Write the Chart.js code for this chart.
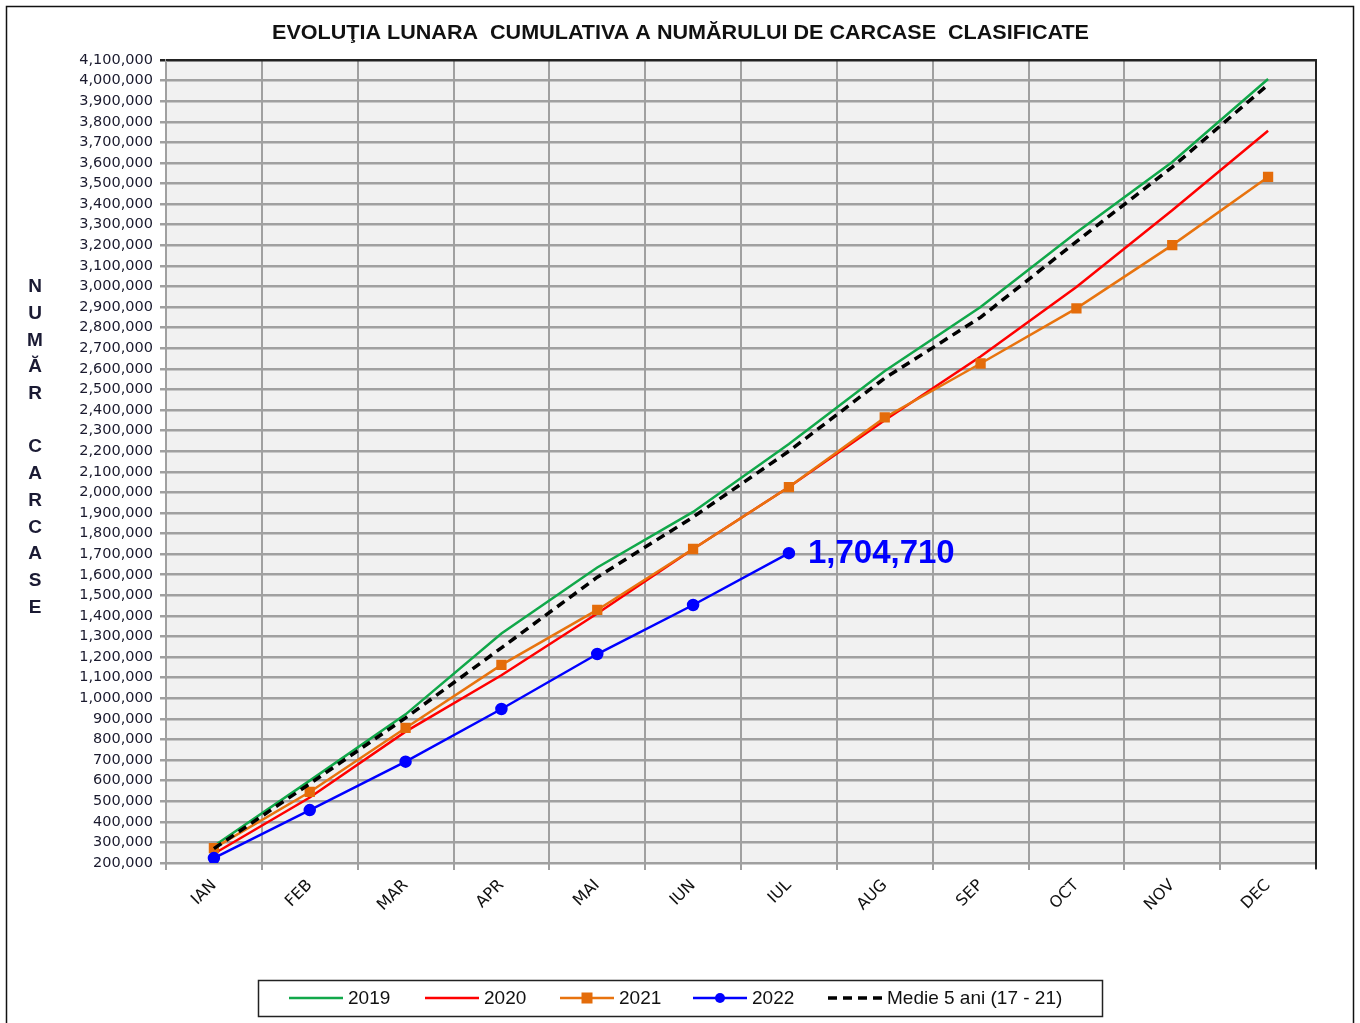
<!DOCTYPE html>
<html>
<head>
<meta charset="utf-8">
<script src="https://cdn.jsdelivr.net/npm/chart.js@4.4.1/dist/chart.umd.min.js"></script>
<style>
  html, body { margin: 0; padding: 0; background: #fff; }
  canvas { display: block; }
</style>
</head>
<body>
<canvas id="chart" width="1360" height="1023"></canvas>
<script>
// Date - evolutia lunara cumulativa a carcaselor clasificate
const months = ['IAN', 'FEB', 'MAR', 'APR', 'MAI', 'IUN', 'IUL', 'AUG', 'SEP', 'OCT', 'NOV', 'DEC'];
const s2019 = [283000, 600000, 922000, 1315000, 1635000, 1905000, 2235000, 2590000, 2900000, 3262000, 3605000, 4008000];
const s2020 = [245000, 518000, 838000, 1112000, 1412000, 1725000, 2026000, 2350000, 2660000, 2998000, 3370000, 3756000];
const s2021 = [272000, 545000, 856000, 1162000, 1429000, 1725000, 2026000, 2364000, 2626000, 2894000, 3201000, 3532000];
const s2022 = [224000, 457000, 692000, 948000, 1215000, 1453000, 1704710];
const medie = [270000, 585000, 905000, 1245000, 1588000, 1880000, 2200000, 2555000, 2850000, 3218000, 3580000, 3980000];
const yMin = 200000;
const yMax = 4100000;
const yStep = 100000;

const chartTitle = 'EVOLUŢIA LUNARA  CUMULATIVA A NUMĂRULUI DE CARCASE  CLASIFICATE';
const yTitle = 'NUMĂR CARCASE';
const lastLabel = s2022[s2022.length - 1];

const fmt = v => Number(v).toLocaleString('en-US');

// fundal + chenare
const decorPlugin = {
    id: 'decor',
    beforeDraw(chart) {
        const { ctx, chartArea: a } = chart;
        ctx.save();
        ctx.fillStyle = '#ffffff';
        ctx.fillRect(0, 0, chart.width, chart.height);
        ctx.fillStyle = '#f1f1f1';
        ctx.fillRect(a.left, a.top, a.right - a.left, a.bottom - a.top);
        ctx.restore();
    },
    afterDatasetsDraw(chart) {
        const { ctx, chartArea: a } = chart;
        ctx.save();
        // linie sus + dreapta
        ctx.strokeStyle = '#222';
        ctx.lineWidth = 2;
        ctx.beginPath();
        ctx.moveTo(a.left, a.top);
        ctx.lineTo(a.right, a.top);
        ctx.lineTo(a.right, a.bottom + 6);
        ctx.stroke();

        // eticheta ultima valoare 2022
        const meta = chart.getDatasetMeta(3);
        const pt = meta.data[meta.data.length - 1];
        ctx.fillStyle = '#0000ff';
        ctx.font = 'bold 33px "Liberation Sans", Arial, sans-serif';
        ctx.textBaseline = 'middle';
        ctx.textAlign = 'left';
        ctx.fillText(fmt(lastLabel), pt.x + 19, pt.y + 1);
        ctx.restore();
    },
    afterDraw(chart) {
        const { ctx } = chart;
        ctx.save();
        // chenar exterior
        ctx.strokeStyle = '#111';
        ctx.lineWidth = 1.5;
        ctx.strokeRect(6.5, 6.5, 1347, 1040);

        // titlu, intins pe latimea din original
        ctx.fillStyle = '#111';
        ctx.font = 'bold 20px "Liberation Sans", Arial, sans-serif';
        ctx.textAlign = 'left';
        ctx.textBaseline = 'middle';
        const tw = ctx.measureText(chartTitle).width;
        ctx.save();
        ctx.translate(272, 33);
        ctx.scale(817 / tw, 1);
        ctx.fillText(chartTitle, 0, 0);
        ctx.restore();

        // titlu axa Y, litere stivuite
        ctx.textAlign = 'center';
        ctx.fillStyle = '#1a1a33';
        ctx.font = 'bold 19px "Liberation Sans", Arial, sans-serif';
        [...yTitle].forEach((ch, i) => {
            ctx.fillText(ch, 35, 287 + i * 26.7);
        });

        // legenda
        const box = { x: 258, y: 980, w: 844, h: 36 };
        ctx.strokeStyle = '#222';
        ctx.lineWidth = 1.5;
        ctx.strokeRect(box.x + 0.5, box.y + 0.5, box.w, box.h);
        const cy = box.y + box.h / 2;
        ctx.font = '19px "Liberation Sans", Arial, sans-serif';
        ctx.textAlign = 'left';
        const starts = [289, 425, 560, 693, 828];
        chart.data.datasets.forEach((ds, i) => {
            const x0 = starts[i];
            ctx.strokeStyle = ds.borderColor;
            ctx.lineWidth = ds.borderWidth;
            ctx.setLineDash(ds.borderDash || []);
            ctx.beginPath();
            ctx.moveTo(x0, cy);
            ctx.lineTo(x0 + 54, cy);
            ctx.stroke();
            ctx.setLineDash([]);
            if (ds.pointRadius > 0) {
                ctx.fillStyle = ds.pointBackgroundColor;
                const r = ds.pointRadius;
                if (ds.pointStyle === 'rect') {
                    ctx.fillRect(x0 + 27 - r, cy - r, r * 2, r * 2);
                } else {
                    ctx.beginPath();
                    ctx.arc(x0 + 27, cy, r, 0, Math.PI * 2);
                    ctx.fill();
                }
            }
            ctx.fillStyle = '#111';
            ctx.fillText(ds.label, x0 + 59, cy + 1);
        });
        ctx.restore();
    }
};

new Chart(document.getElementById('chart'), {
    type: 'line',
    data: {
        labels: months,
        datasets: [
            {
                label: '2019',
                data: s2019,
                borderColor: '#11a84a',
                borderWidth: 2.5,
                pointRadius: 0,
                order: 4
            },
            {
                label: '2020',
                data: s2020,
                borderColor: '#ff0000',
                borderWidth: 2.5,
                pointRadius: 0,
                order: 3
            },
            {
                label: '2021',
                data: s2021,
                borderColor: '#e8730e',
                borderWidth: 2.5,
                pointStyle: 'rect',
                pointRadius: 5.5,
                pointBackgroundColor: '#e46c0a',
                pointBorderColor: '#e46c0a',
                order: 2
            },
            {
                label: '2022',
                data: s2022,
                borderColor: '#0000ff',
                borderWidth: 2.5,
                pointStyle: 'circle',
                pointRadius: 5,
                pointBackgroundColor: '#0000ff',
                pointBorderColor: '#0000ff',
                order: 0
            },
            {
                label: 'Medie 5 ani (17 - 21)',
                data: medie,
                borderColor: '#000000',
                borderWidth: 3.5,
                borderDash: [9, 6],
                pointRadius: 0,
                order: 1
            }
        ]
    },
    options: {
        responsive: false,
        animation: false,
        layout: {
            padding: { top: 60, right: 44, left: 0, bottom: 0 }
        },
        plugins: {
            legend: { display: false },
            title: { display: false },
            tooltip: { enabled: false }
        },
        scales: {
            x: {
                offset: true,
                grid: {
                    offset: true,
                    color: '#a0a0a0',
                    lineWidth: 2,
                    tickLength: 7
                },
                border: { color: '#a0a0a0', width: 2 },
                ticks: {
                    autoSkip: false,
                    minRotation: 45,
                    maxRotation: 45,
                    color: '#111',
                    padding: 6,
                    font: { family: '"DejaVu Sans", sans-serif', size: 16 }
                },
                afterFit(scale) {
                    scale.height = 160;
                }
            },
            y: {
                min: yMin,
                max: yMax,
                ticks: {
                    stepSize: yStep,
                    color: '#1a1a2e',
                    padding: 7,
                    font: { family: '"DejaVu Sans", sans-serif', size: 14.5 },
                    callback: v => fmt(v)
                },
                grid: {
                    color: ctx => (ctx.tick && ctx.tick.value === yMax) ? '#222' : '#a0a0a0',
                    lineWidth: 2.5,
                    tickLength: 6
                },
                border: { color: '#a0a0a0', width: 2 },
                afterFit(scale) {
                    scale.width = 166;
                }
            }
        }
    },
    plugins: [decorPlugin]
});
</script>
</body>
</html>
